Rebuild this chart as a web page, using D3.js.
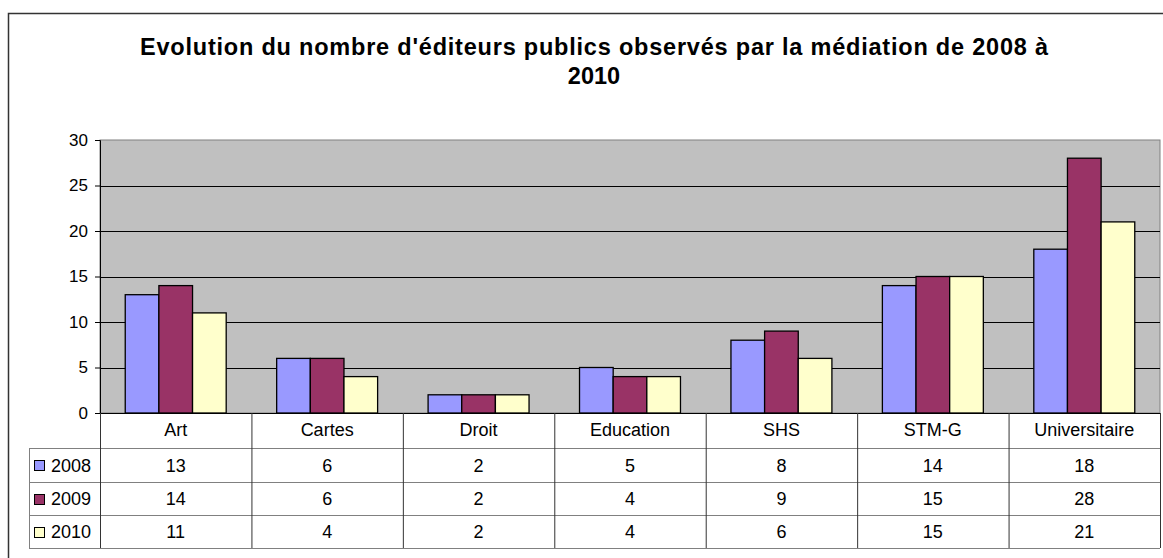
<!DOCTYPE html>
<html>
<head>
<meta charset="UTF-8">
<title>Evolution du nombre d'éditeurs publics</title>
<style>
    body { margin: 0; padding: 0; background: #fff; }
    svg { display: block; font-family: "Liberation Sans", Arial, sans-serif; }
</style>
</head>
<body>
<svg width="1163" height="558"></svg>
<script src="https://d3js.org/d3.v7.min.js"></script>
<script>
    // data
    var categories = ["Art", "Cartes", "Droit", "Education", "SHS", "STM-G", "Universitaire"];
    var seriesNames = ["2008", "2009", "2010"];
    var values2008 = [13, 6, 2, 5, 8, 14, 18];
    var values2009 = [14, 6, 2, 4, 9, 15, 28];
    var values2010 = [11, 4, 2, 4, 6, 15, 21];
    var yTicks = [0, 5, 10, 15, 20, 25, 30];
    var titleLines = ["Evolution du nombre d'éditeurs publics observés par la médiation de 2008 à", "2010"];

    var colors = ["#9999ff", "#993366", "#ffffcc"];
    var series = [values2008, values2009, values2010].map(function (v, i) {
        return { name: seriesNames[i], values: v, color: colors[i] };
    });

    var svg = d3.select("svg");
    var plot = { left: 100, right: 1160, top: 140, bottom: 413 };

    // outer chart border (runs off the right and bottom of the picture)
    svg.append("rect")
        .attr("x", 8.5).attr("y", 13.5)
        .attr("width", 1200).attr("height", 600)
        .attr("fill", "none").attr("stroke", "#333").attr("stroke-width", 1.5);

    // title
    svg.append("g").selectAll("text")
        .data(titleLines)
        .enter().append("text")
        .attr("x", 594)
        .attr("y", function (d, i) { return 55 + i * 29; })
        .attr("text-anchor", "middle")
        .attr("textLength", function (d, i) { return i === 0 ? 908 : null; })
        .attr("lengthAdjust", "spacing")
        .style("font-size", "23.5px")
        .style("font-weight", "bold")
        .text(function (d) { return d; });

    var x = d3.scaleBand().domain(categories).range([plot.left, plot.right]).padding(0);
    var y = d3.scaleLinear().domain([0, 30]).range([plot.bottom, plot.top]);

    // Excel style: gap width 150% of a bar
    var barW = x.bandwidth() / (series.length + 1.5);
    var xs = d3.scaleBand().domain(seriesNames)
        .range([barW * 0.75, barW * 0.75 + barW * series.length]).padding(0);

    // plot background
    svg.append("rect")
        .attr("x", plot.left).attr("y", plot.top)
        .attr("width", plot.right - plot.left).attr("height", plot.bottom - plot.top)
        .attr("fill", "#c0c0c0").attr("stroke", "#808080");

    // gridlines
    svg.append("g").selectAll("line")
        .data(yTicks.filter(function (t) { return t > 0 && t < 30; }))
        .enter().append("line")
        .attr("x1", plot.left).attr("x2", plot.right)
        .attr("y1", function (d) { return Math.round(y(d)) + 0.5; })
        .attr("y2", function (d) { return Math.round(y(d)) + 0.5; })
        .attr("stroke", "#000");

    // y axis
    var yAxis = svg.append("g")
        .attr("transform", "translate(" + plot.left + ",0)")
        .call(d3.axisLeft(y).tickValues(yTicks).tickSize(5).tickPadding(7));
    yAxis.select(".domain").attr("stroke", "#000");
    yAxis.selectAll(".tick line").attr("stroke", "#000");
    yAxis.selectAll("text")
        .style("font-size", "17px")
        .style("font-family", "Liberation Sans, Arial, sans-serif")
        .attr("fill", "#000");

    // bars
    svg.append("g").selectAll("g")
        .data(series)
        .enter().append("g")
        .attr("fill", function (d) { return d.color; })
        .selectAll("rect")
        .data(function (s) {
            return s.values.map(function (v, i) { return { cat: categories[i], name: s.name, value: v }; });
        })
        .enter().append("rect")
        .attr("x", function (d) { return x(d.cat) + xs(d.name); })
        .attr("y", function (d) { return y(d.value); })
        .attr("width", xs.bandwidth())
        .attr("height", function (d) { return y(0) - y(d.value); })
        .attr("stroke", "#000")
        .attr("stroke-width", 1.3);

    // data table
    var rowTop = [413, 448, 482, 515, 548];
    var table = svg.append("g");
    var lineColor = "#808080";

    // horizontal lines
    rowTop.forEach(function (ry, i) {
        table.append("line")
            .attr("x1", i === 0 ? plot.left : 29).attr("x2", plot.right)
            .attr("y1", ry + 0.5).attr("y2", ry + 0.5)
            .attr("stroke", i === 0 ? "#000" : lineColor);
    });
    // vertical lines
    categories.forEach(function (c) {
        table.append("line")
            .attr("x1", x(c) + 0.5).attr("x2", x(c) + 0.5)
            .attr("y1", rowTop[0]).attr("y2", rowTop[4])
            .attr("stroke", "#333");
    });
    table.append("line")
        .attr("x1", plot.right + 0.5).attr("x2", plot.right + 0.5)
        .attr("y1", rowTop[0]).attr("y2", rowTop[4])
        .attr("stroke", "#333");
    table.append("line")
        .attr("x1", 29.5).attr("x2", 29.5)
        .attr("y1", rowTop[1]).attr("y2", rowTop[4])
        .attr("stroke", lineColor);

    // category labels
    table.selectAll("text.cat")
        .data(categories)
        .enter().append("text")
        .attr("class", "cat")
        .attr("x", function (d) { return x(d) + x.bandwidth() / 2; })
        .attr("y", 436)
        .attr("text-anchor", "middle")
        .style("font-size", "18px")
        .text(function (d) { return d; });

    // series rows
    series.forEach(function (s, r) {
        var cy = (rowTop[r + 1] + rowTop[r + 2]) / 2;
        table.append("rect")
            .attr("x", 34.5).attr("y", Math.round(cy - 5) + 0.5)
            .attr("width", 10).attr("height", 10)
            .attr("fill", s.color).attr("stroke", "#000");
        table.append("text")
            .attr("x", 51).attr("y", cy + 6.5)
            .style("font-size", "18px")
            .text(s.name);
        table.selectAll(null)
            .data(s.values)
            .enter().append("text")
            .attr("x", function (d, i) { return x(categories[i]) + x.bandwidth() / 2; })
            .attr("y", cy + 6.5)
            .attr("text-anchor", "middle")
            .style("font-size", "18px")
            .text(function (d) { return d; });
    });
</script>
</body>
</html>
